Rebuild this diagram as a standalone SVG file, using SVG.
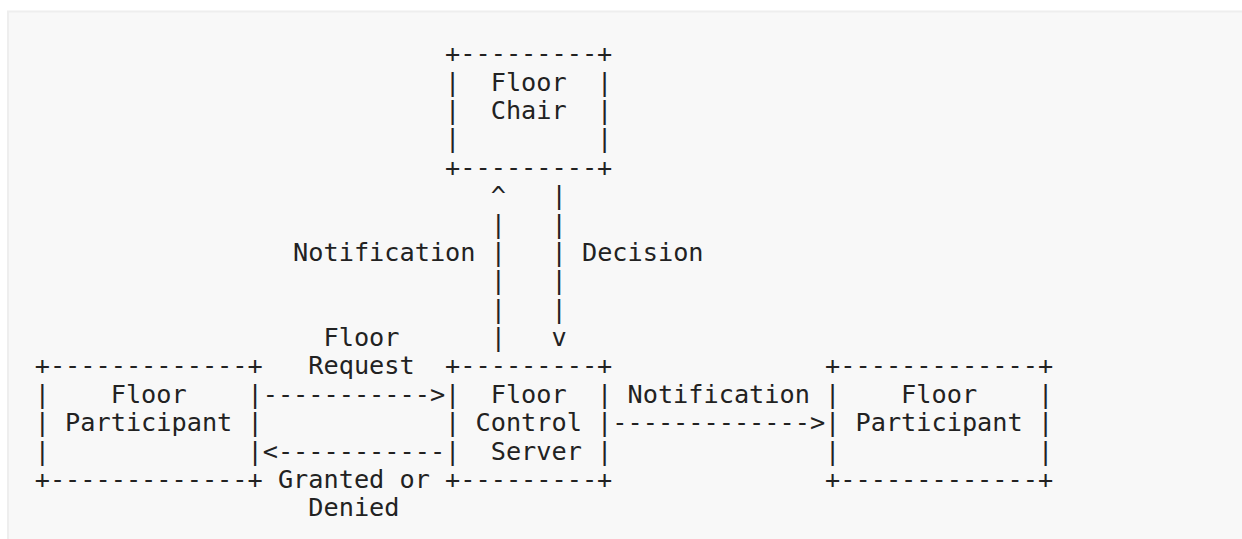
<svg xmlns="http://www.w3.org/2000/svg" width="1242" height="539" viewBox="0 0 1242 539">
<style>
.t{font-family:"DejaVu Sans Mono","Liberation Mono",monospace;font-size:25.25px;fill:#222;white-space:pre}
</style>
<rect x="0" y="0" width="1242" height="539" fill="#ffffff"/>
<rect x="8" y="11.5" width="1260" height="560" fill="#f8f8f8" stroke="#eeeeee" stroke-width="2"/>
<g id="floor-chair">
<text class="t" xml:space="preserve" x="445.1" y="62.3">+---------+</text>
<text class="t" xml:space="preserve" x="445.1" y="90.7">|  Floor  |</text>
<text class="t" xml:space="preserve" x="445.1" y="119.05">|  Chair  |</text>
<text class="t" xml:space="preserve" x="445.1" y="147.4">|         |</text>
<text class="t" xml:space="preserve" x="445.1" y="175.8">+---------+</text>
</g>
<g id="floor-participant-left">
<text class="t" xml:space="preserve" x="34.7" y="374.4">+-------------+</text>
<text class="t" xml:space="preserve" x="34.7" y="402.8">|    Floor    |</text>
<text class="t" xml:space="preserve" x="34.7" y="431.2">| Participant |</text>
<text class="t" xml:space="preserve" x="34.7" y="459.55">|             |</text>
<text class="t" xml:space="preserve" x="34.7" y="487.9">+-------------+</text>
</g>
<g id="floor-control-server">
<text class="t" xml:space="preserve" x="445.1" y="374.4">+---------+</text>
<text class="t" xml:space="preserve" x="445.1" y="402.8">|  Floor  |</text>
<text class="t" xml:space="preserve" x="445.1" y="431.2">| Control |</text>
<text class="t" xml:space="preserve" x="445.1" y="459.55">|  Server |</text>
<text class="t" xml:space="preserve" x="445.1" y="487.9">+---------+</text>
</g>
<g id="floor-participant-right">
<text class="t" xml:space="preserve" x="825.1" y="374.4">+-------------+</text>
<text class="t" xml:space="preserve" x="825.1" y="402.8">|    Floor    |</text>
<text class="t" xml:space="preserve" x="825.1" y="431.2">| Participant |</text>
<text class="t" xml:space="preserve" x="825.1" y="459.55">|             |</text>
<text class="t" xml:space="preserve" x="825.1" y="487.9">+-------------+</text>
</g>
<g id="connectors">
<text class="t" xml:space="preserve" x="490.7" y="204.2">^   |</text>
<text class="t" xml:space="preserve" x="490.7" y="232.55">|   |</text>
<text class="t" xml:space="preserve" x="293.1" y="260.9">Notification |   | Decision</text>
<text class="t" xml:space="preserve" x="490.7" y="289.3">|   |</text>
<text class="t" xml:space="preserve" x="490.7" y="317.7">|   |</text>
<text class="t" xml:space="preserve" x="323.5" y="346.05">Floor</text>
<text class="t" xml:space="preserve" x="490.7" y="346.05">|   v</text>
<text class="t" xml:space="preserve" x="308.3" y="374.4">Request</text>
<text class="t" xml:space="preserve" x="262.7" y="402.8">-----------&gt;</text>
<text class="t" xml:space="preserve" x="627.5" y="402.8">Notification</text>
<text class="t" xml:space="preserve" x="612.3" y="431.2">-------------&gt;</text>
<text class="t" xml:space="preserve" x="262.7" y="459.55">&lt;-----------</text>
<text class="t" xml:space="preserve" x="277.9" y="487.9">Granted or</text>
<text class="t" xml:space="preserve" x="308.3" y="516.3">Denied</text>
</g>
</svg>
